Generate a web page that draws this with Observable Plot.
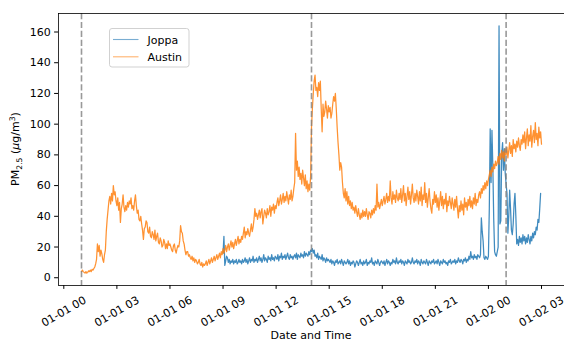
<!DOCTYPE html>
<html>
<head>
<meta charset="utf-8">
<script src="https://cdn.jsdelivr.net/npm/d3@7"></script>
<script src="https://cdn.jsdelivr.net/npm/@observablehq/plot@0.6"></script>
<style>
  body { margin: 0; background: #fff; }
  #chart { width: 564px; height: 340px; overflow: hidden; }
</style>
</head>
<body>
<div id="chart"></div>
<script>
// ---- data (3-minute samples) ----
const stepMinutes = 3;
const austinStart = "2024-01-01T01:00Z";
const joppaStart = "2024-01-01T09:00Z";

const austinValues = [
  4, 5, 4, 3.5, 3, 4, 3, 3.5, 4.5, 4, 5, 4, 5.5, 5, 6, 7, 9, 12, 22, 17,
  21, 14, 18, 15.6, 12, 10, 15, 18, 30, 38, 44, 50, 53, 48, 55, 50, 60, 54, 56, 50,
  47, 52, 44, 49, 36, 45, 48, 54, 46, 43, 47, 44, 49, 46, 50, 48, 52, 45, 47, 44,
  50, 54, 47, 42, 44, 38, 37, 40, 35, 31, 25, 32, 33, 37, 36, 30, 29, 33, 27, 26,
  30, 28, 25, 31, 24, 27, 29, 23, 22, 26, 24, 20, 21, 25, 23, 19, 22, 19, 24, 21,
  22, 20, 18, 17, 21, 22, 18, 16, 19, 21, 20, 24, 34, 30, 29, 24, 22, 18, 15, 17,
  17, 14, 15, 13, 12, 14, 11, 13, 10, 12, 11, 9, 10, 12, 9, 8, 10, 7, 9, 8,
  9, 11, 8, 10, 12, 9, 11, 13, 10, 12, 14, 11, 13, 15, 12, 14, 16, 13, 17, 15,
  19, 16, 18, 21, 17, 20, 22, 18, 21, 24, 20, 23, 19, 22, 25, 21, 24, 27, 22, 25,
  23, 27, 25, 29, 33, 26, 30, 28, 32, 29, 27, 31, 35, 30, 33, 38, 45, 40, 42, 38,
  41, 44, 39, 43, 45, 35, 40, 44, 42, 39, 45, 41, 43, 47, 40, 46, 44, 48, 42, 47,
  45, 49, 52, 47, 50, 54, 48, 51, 55, 49, 53, 50, 56, 52, 48, 54, 51, 57, 50, 53,
  58, 62, 94, 70, 76, 66, 72, 64, 68, 61, 70, 65, 60, 67, 58, 63, 56, 61, 57, 66,
  98, 110, 120, 128, 132, 122, 124, 118, 127, 122, 128, 110, 95, 113, 105, 108, 115, 110, 104, 112,
  108, 111, 104, 107, 113, 118, 115, 120, 110, 98, 88, 80, 70, 75, 72, 62, 55, 52, 58, 50,
  56, 48, 53, 47, 50, 45, 49, 44, 46, 42, 47, 43, 40, 45, 41, 38, 42, 39, 44, 40,
  43, 40, 45, 41, 38, 43, 42, 39, 44, 41, 45, 42, 47, 44, 61, 46, 49, 45, 48, 51,
  47, 50, 53, 48, 51, 55, 49, 53, 50, 63, 52, 48, 56, 51, 54, 49, 57, 52, 50, 55,
  51, 58, 49, 54, 60, 50, 55, 47, 53, 59, 51, 56, 48, 54, 61, 52, 49, 55, 50, 57,
  53, 48, 56, 50, 59, 47, 54, 51, 62, 49, 55, 46, 52, 58, 50, 45, 42, 51, 48, 56,
  49, 54, 46, 52, 44, 50, 56, 47, 53, 45, 51, 48, 55, 43, 50, 47, 53, 49, 45, 52,
  48, 44, 51, 46, 53, 45, 39, 47, 43, 50, 44, 48, 41, 52, 46, 49, 44, 51, 47, 53,
  46, 50, 45, 52, 48, 55, 47, 51, 49, 54, 56, 52, 58, 55, 60, 57, 62, 58, 63, 60,
  64, 67, 70, 66, 72, 69, 74, 71, 76, 73, 75, 79, 74, 81, 77, 83, 78, 82, 76, 84,
  80, 85, 78, 83, 88, 81, 86, 79, 90, 84, 87, 82, 89, 85, 91, 86, 83, 90, 87, 93,
  88, 95, 84, 91, 97, 86, 93, 89, 99, 85, 92, 96, 88, 101, 90, 94, 86, 98, 91, 95,
  87
];

const joppaValues = [
  16, 27, 8, 11, 14, 13, 10, 12, 9, 11, 10, 12, 9, 11, 10, 12, 9, 10, 12, 10,
  11, 9, 12, 10, 11, 13, 10, 12, 9, 11, 13, 10, 12, 11, 14, 10, 12, 11, 13, 10,
  12, 14, 11, 13, 10, 12, 15, 11, 13, 12, 10, 14, 12, 13, 11, 15, 12, 13, 11, 14,
  13, 12, 15, 11, 14, 13, 16, 12, 14, 13, 15, 12, 14, 16, 13, 12, 15, 13, 14, 12,
  14, 15, 13, 16, 12, 15, 14, 13, 16, 14, 15, 13, 17, 14, 16, 15, 14, 17, 15, 18,
  17, 19, 16, 18, 14, 15, 13, 16, 12, 14, 13, 12, 15, 11, 13, 12, 10, 13, 11, 12,
  11, 10, 12, 9, 11, 10, 8, 11, 10, 12, 9, 10, 11, 9, 12, 10, 8, 11, 10, 9,
  10, 12, 9, 11, 8, 10, 9, 11, 10, 7, 9, 11, 10, 8, 10, 12, 9, 10, 8, 11,
  9, 10, 12, 8, 10, 9, 11, 10, 13, 9, 10, 8, 11, 10, 9, 12, 10, 8, 10, 11,
  10, 9, 11, 8, 10, 12, 9, 11, 10, 8, 10, 9, 12, 10, 11, 9, 13, 10, 9, 11,
  10, 12, 9, 11, 10, 8, 11, 10, 9, 12, 10, 11, 9, 10, 13, 10, 9, 11, 10, 12,
  9, 11, 10, 8, 12, 10, 9, 11, 10, 9, 12, 10, 8, 11, 10, 9, 11, 10, 12, 9,
  10, 11, 9, 12, 10, 8, 11, 10, 9, 12, 10, 11, 9, 10, 8, 11, 10, 12, 9, 10,
  11, 10, 12, 9, 11, 10, 13, 11, 10, 12, 11, 9, 12, 11, 13, 10, 12, 11, 14, 12,
  17, 13, 14, 12, 15, 13, 14, 12, 15, 14, 13, 15, 39, 30, 24, 13, 12, 14, 13, 12,
  14, 45, 97, 62, 96, 72, 38, 17, 15, 14, 17, 20, 164, 35, 37, 80, 88, 70, 84, 68,
  61, 55, 29, 40, 57, 45, 31, 28, 35, 48, 55, 40, 22, 25, 21, 27, 23, 26, 22, 28,
  24, 27, 22, 26, 23, 28, 25, 22, 27, 24, 29, 26, 30, 28, 33, 31, 38, 36, 45, 55
];

const eventTimes = ["2024-01-01T01:00Z", "2024-01-01T14:00Z", "2024-01-02T01:00Z"];
const xTickTimes = [
  "2024-01-01T00:00Z", "2024-01-01T03:00Z", "2024-01-01T06:00Z", "2024-01-01T09:00Z",
  "2024-01-01T12:00Z", "2024-01-01T15:00Z", "2024-01-01T18:00Z", "2024-01-01T21:00Z",
  "2024-01-02T00:00Z", "2024-01-02T03:00Z"
];
const yTicks = [0, 20, 40, 60, 80, 100, 120, 140, 160];
const seriesNames = ["Joppa", "Austin"];
const seriesColors = ["#1f77b4", "#ff7f0e"];

// ---- build tables ----
function toSeries(startIso, values, name) {
  const t0 = new Date(startIso).getTime();
  return values.map((v, i) => ({time: new Date(t0 + i * stepMinutes * 60000), value: v, name}));
}
const joppa = toSeries(joppaStart, joppaValues, "Joppa");
const austin = toSeries(austinStart, austinValues, "Austin");
const all = joppa.concat(austin);

const [tmin, tmax] = d3.extent(all, d => d.time);
const tpad = (tmax - tmin) * 0.05;
const [vmin, vmax] = d3.extent(all, d => d.value);
const vpad = (vmax - vmin) * 0.05;

const fmt = d3.utcFormat("%m-%d %H");
const xTicks = xTickTimes.map(s => new Date(s));
const events = eventTimes.map(s => new Date(s));

const W = 564, H = 340;
const plot = Plot.plot({
  width: W,
  height: H,
  marginLeft: 58,
  marginRight: 0,
  marginTop: 13,
  marginBottom: 55,
  style: {fontFamily: "DejaVu Sans", fontSize: "11px", color: "#000", background: "#fff"},
  x: {type: "utc", domain: [new Date(+tmin - tpad), new Date(+tmax + tpad)]},
  y: {domain: [vmin - vpad, vmax + vpad]},
  marks: [
    Plot.line(joppa, {x: "time", y: "value", stroke: seriesColors[0], strokeWidth: 1.25, strokeOpacity: 0.85}),
    Plot.line(austin, {x: "time", y: "value", stroke: seriesColors[1], strokeWidth: 1.25, strokeOpacity: 0.85}),
    Plot.ruleX(events, {x: d => d, stroke: "#808080", strokeOpacity: 0.8, strokeWidth: 1.6, strokeDasharray: "6.2,2.7"}),
    Plot.frame({stroke: "#000", strokeWidth: 0.8}),
    Plot.axisY({ticks: yTicks, tickSize: 3.9, tickPadding: 3.9, label: null, fontSize: 11}),
    Plot.axisX({ticks: xTicks, tickSize: 3.9, tickFormat: () => "", label: null}),
    Plot.text(xTicks, {x: d => d, text: d => fmt(d), frameAnchor: "bottom", dy: 26, rotate: -30,
      textAnchor: "middle", lineAnchor: "middle", fontSize: 11, fill: "#000"})
  ]
});

const svg = d3.select(plot);

// y label with subscript / superscript
const yl = svg.append("text")
  .attr("transform", "translate(19,149) rotate(-90)")
  .attr("text-anchor", "middle")
  .attr("font-family", "DejaVu Sans")
  .attr("font-size", 11)
  .attr("fill", "#000");
yl.append("tspan").text("PM");
yl.append("tspan").attr("font-size", 7.7).attr("dy", 2.5).text("2.5");
yl.append("tspan").attr("dy", -2.5).text(" (");
yl.append("tspan").attr("font-style", "italic").text("μ");
yl.append("tspan").text("g/m");
yl.append("tspan").attr("font-size", 7.7).attr("dy", -4.5).text("3");
yl.append("tspan").attr("dy", 4.5).text(")");

// x label
svg.append("text")
  .attr("x", 311).attr("y", 338.5)
  .attr("text-anchor", "middle")
  .attr("font-family", "DejaVu Sans")
  .attr("font-size", 11)
  .attr("fill", "#000")
  .text("Date and Time");

// legend
const lg = svg.append("g");
lg.append("rect")
  .attr("x", 109.5).attr("y", 28.5).attr("width", 79.5).attr("height", 38.5)
  .attr("rx", 2.5).attr("fill", "#fff").attr("fill-opacity", 0.8)
  .attr("stroke", "#cccccc").attr("stroke-width", 0.9);
seriesNames.forEach((name, i) => {
  const y = 39.5 + i * 17.3;
  lg.append("line").attr("x1", 113).attr("x2", 138.5).attr("y1", y).attr("y2", y)
    .attr("stroke", seriesColors[i]).attr("stroke-width", 1.1).attr("stroke-opacity", 0.6);
  lg.append("text").attr("x", 147.5).attr("y", y + 4)
    .attr("text-anchor", "start")
    .attr("font-family", "DejaVu Sans").attr("font-size", 11).attr("fill", "#000")
    .text(name);
});

document.getElementById("chart").appendChild(plot);
</script>
</body>
</html>
